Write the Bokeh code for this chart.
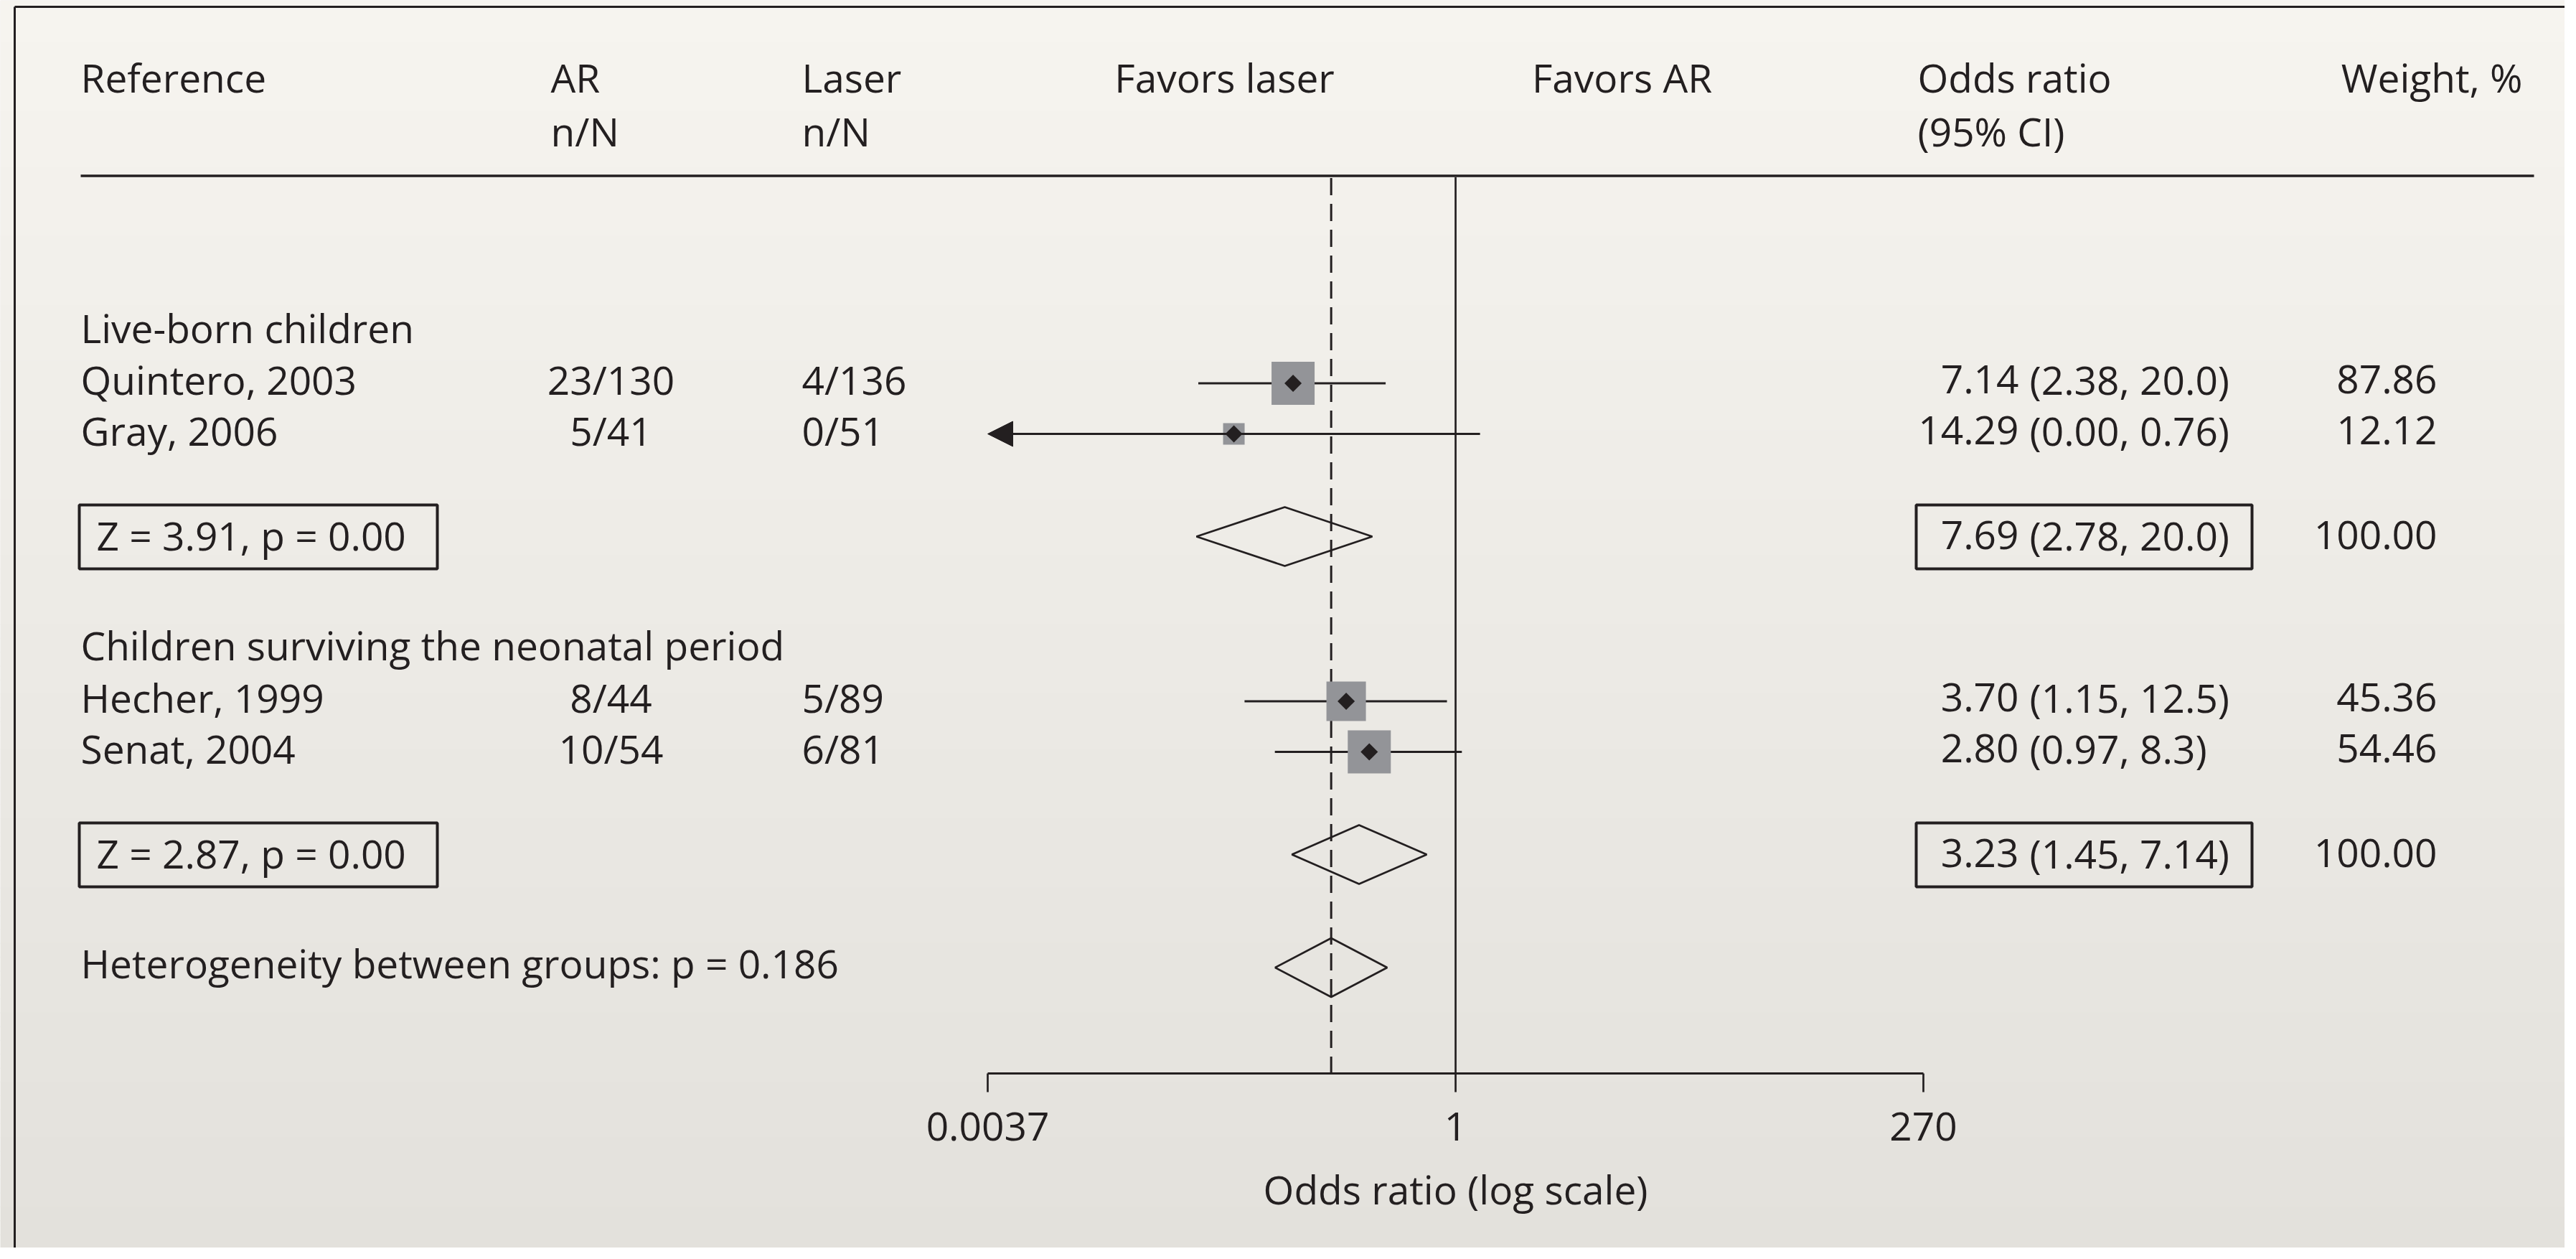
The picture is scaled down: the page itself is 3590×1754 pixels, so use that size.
import math
import numpy as np
from bokeh.plotting import figure
from bokeh.models import Range1d, LogScale, ColumnDataSource, Arrow, NormalHead
from bokeh.core.properties import value
from bokeh.embed import file_html
from bokeh.resources import INLINE

# ---------------- data ----------------
studies = ["Quintero, 2003", "Gray, 2006", "Hecher, 1999", "Senat, 2004"]
ar_nN = ["23/130", "5/41", "8/44", "10/54"]
laser_nN = ["4/136", "0/51", "5/89", "6/81"]
or_est_text = ["7.14", "14.29", "3.70", "2.80"]
or_ci_text = ["(2.38, 20.0)", "(0.00, 0.76)", "(1.15, 12.5)", "(0.97, 8.3)"]
weight_text = ["87.86", "12.12", "45.36", "54.46"]
# plotted positions on the odds-ratio axis (as drawn)
plot_est = [0.143, 0.0704, 0.270, 0.356]
plot_lo = [0.046, None, 0.080, 0.115]   # Gray: lower end runs off the axis (arrow)
plot_hi = [0.433, 1.34, 0.902, 1.078]

group_labels = ["Live-born children", "Children surviving the neonatal period"]
pooled_test = ["Z = 3.91, p = 0.00", "Z = 2.87, p = 0.00"]
pooled_est_text = ["7.69", "3.23"]
pooled_ci_text = ["(2.78, 20.0)", "(1.45, 7.14)"]
pooled_weight = ["100.00", "100.00"]
pooled_est = [0.1295, 0.315]
pooled_lo = [0.045, 0.141]
pooled_hi = [0.369, 0.708]

overall_est = 0.2256
overall_lo = 0.1154
overall_hi = 0.441
het_text = "Heterogeneity between groups: p = 0.186"

null_value = 1.0
axis_ticks = [0.0037, 1, 270]
axis_tick_labels = ["0.0037", "1", "270"]
axis_title = "Odds ratio (log scale)"

header_line1 = ["Reference", "AR", "Laser", "Odds ratio"]
header_line2 = ["n/N", "n/N", "(95% CI)"]
favors = ["Favors laser", "Favors AR"]
weight_header = "Weight, %"

# ---------------- styles / layout ----------------
W, H = 3574, 1738
INK = "#231f20"
FONT = "Open Sans"
FS = "55px"
TXT_DY = -19.5          # compensation for the renderer's baseline placement
square_sizes = [60, 30, 55, 60]
SQ_COLOR = "#939498"

# vertical layout (page pixels)
study_y = [533.5, 604, 976.5, 1047]
group_y = [475, 917]
pooled_y = [747, 1190]
overall_y = 1347.5
HDR1, HDR2 = 126.5, 201
RULE_Y = 244.5
AXIS_Y = 1495
TICK_LEN = 26

# horizontal layout (page pixels)
COL_REF = 112
COL_AR = 767
COL_AR_C = 851
COL_LASER = 1117
COL_OR = 2672
COL_OR_PAREN = 2828
COL_OR_END = 2813
COL_WEIGHT_R = 3396
AX_LEFT_PX, AX_RIGHT_PX = 1376, 2680

p = figure(width=W, height=H, x_range=Range1d(0, W), y_range=Range1d(H, 0),
           output_backend="svg", toolbar_location=None, min_border=0,
           x_axis_location=None, y_axis_location=None)
p.grid.visible = False
p.outline_line_color = None
p.background_fill_color = "#eeece7"
p.border_fill_color = "#eeece7"

# log-scale odds-ratio range mapped so ticks land on the axis pixels
lmin, lmax = math.log(axis_ticks[0]), math.log(axis_ticks[-1])
k = (lmax - lmin) / (AX_RIGHT_PX - AX_LEFT_PX)
or_start = math.exp(lmin - k * AX_LEFT_PX)
or_end = math.exp(lmax + k * (W - AX_RIGHT_PX))
p.extra_x_ranges = {"or": Range1d(or_start, or_end)}
p.extra_x_scales = {"or": LogScale()}

# paper background: vertical gradient
nb = 90
edges = np.linspace(0, H, nb + 1)
top = np.array([246, 244, 239])
bot = np.array([227, 225, 220])
cols = []
for i in range(nb):
    t = i / (nb - 1)
    c = (top * (1 - t) + bot * t).round().astype(int)
    cols.append("#%02x%02x%02x" % tuple(c))
p.quad(left=0, right=W, top=edges[:-1], bottom=edges[1:] + 1.5, fill_color=cols, line_color=None)

# frame lines
p.segment(x0=[20, 20], y0=[9, 9], x1=[W, 20], y1=[9, H], line_color=INK, line_width=3)
p.segment(x0=[COL_REF], y0=[RULE_Y], x1=[3531], y1=[RULE_Y], line_color=INK, line_width=3.3)

# boxes around pooled stats
for yc in pooled_y:
    p.quad(left=[110, 2670], right=[609, 3138], top=[yc - 44, yc - 44], bottom=[yc + 45, yc + 45],
           fill_alpha=0, line_color=INK, line_width=4)


def add_text(xs, ys, texts, align="left", rng="default"):
    src = ColumnDataSource(dict(x=xs, y=[v + TXT_DY for v in ys], text=texts))
    p.text(x="x", y="y", text="text", source=src, x_range_name=rng,
           text_align=align, text_baseline="alphabetic",
           text_font=value(FONT), text_font_size=FS, text_color=INK)


# headers
add_text([COL_REF, COL_AR, COL_LASER, COL_OR], [HDR1] * 4, header_line1)
add_text([COL_AR, COL_LASER, COL_OR], [HDR2] * 3, header_line2)
add_text([1706, 2260], [HDR1] * 2, favors, align="center")
add_text([3515], [HDR1], [weight_header], align="right")

# group labels and study rows
add_text([COL_REF] * 2, group_y, group_labels)
base = [y + 14 for y in study_y]
add_text([COL_REF] * 4, base, studies)
add_text([COL_AR_C] * 4, base, ar_nN, align="center")
add_text([COL_LASER] * 4, base, laser_nN)
add_text([COL_OR_END] * 4, base, or_est_text, align="right")
add_text([COL_OR_PAREN] * 4, base, or_ci_text)
add_text([COL_WEIGHT_R] * 4, base, weight_text, align="right")

# pooled rows
pb = [y + 17 for y in pooled_y]
add_text([134] * 2, pb, pooled_test)
add_text([COL_OR_END] * 2, pb, pooled_est_text, align="right")
add_text([COL_OR_PAREN] * 2, pb, pooled_ci_text)
add_text([COL_WEIGHT_R] * 2, pb, pooled_weight, align="right")
add_text([COL_REF], [overall_y + 13], [het_text])

# reference lines
p.segment(x0=[null_value], x1=[null_value], y0=[RULE_Y + 2], y1=[AXIS_Y], x_range_name="or",
          line_color=INK, line_width=2.7)
p.segment(x0=[overall_est], x1=[overall_est], y0=[RULE_Y + 3], y1=[AXIS_Y], x_range_name="or",
          line_color=INK, line_width=3, line_dash="24 12")

# odds-ratio axis
p.segment(x0=[axis_ticks[0]], x1=[axis_ticks[-1]], y0=[AXIS_Y], y1=[AXIS_Y], x_range_name="or",
          line_color=INK, line_width=3)
p.segment(x0=axis_ticks, x1=axis_ticks, y0=[AXIS_Y] * 3, y1=[AXIS_Y + TICK_LEN] * 3, x_range_name="or",
          line_color=INK, line_width=2.7)
add_text(axis_ticks, [1588] * 3, axis_tick_labels, align="center", rng="or")
add_text([null_value], [1675], [axis_title], align="center", rng="or")

# confidence intervals
ci_idx = [i for i in range(len(studies)) if plot_lo[i] is not None]
p.segment(x0=[plot_lo[i] for i in ci_idx], x1=[plot_hi[i] for i in ci_idx],
          y0=[study_y[i] for i in ci_idx], y1=[study_y[i] for i in ci_idx],
          x_range_name="or", line_color=INK, line_width=3)
for i in range(len(studies)):
    if plot_lo[i] is None:
        p.add_layout(Arrow(end=NormalHead(size=35, fill_color=INK, line_color=INK, line_width=1),
                           x_start=plot_hi[i], x_end=axis_ticks[0], y_start=study_y[i], y_end=study_y[i],
                           x_range_name="or", line_color=INK, line_width=3))

# study squares with point diamonds
p.scatter(x=plot_est, y=study_y, size=square_sizes, marker="square", x_range_name="or",
          fill_color=SQ_COLOR, line_color=None)
p.scatter(x=plot_est, y=study_y, size=17, marker="square", angle=math.pi / 4, x_range_name="or",
          fill_color=INK, line_color=None)

# pooled diamonds
dxs = [[lo, e, hi, e] for lo, e, hi in zip(pooled_lo + [overall_lo], pooled_est + [overall_est],
                                            pooled_hi + [overall_hi])]
dys = [[y, y - 41, y, y + 41] for y in pooled_y + [overall_y]]
p.patches(xs=dxs, ys=dys, x_range_name="or", fill_alpha=0, line_color=INK, line_width=2.7)

open("out.html", "w").write(file_html(p, INLINE))
